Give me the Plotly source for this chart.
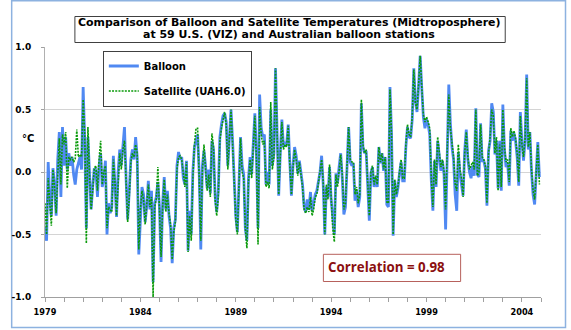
import plotly.graph_objects as go

FONT = "DejaVu Sans"
NOTE_FONT = "Open Sans"

# Monthly midtroposphere anomalies (deg C), Jan 1979 - Dec 2004, one row per year
balloon = [
    -0.44, -0.55, 0.08, -0.22, -0.35, 0.03, -0.10, -0.35, 0.10, 0.32, -0.20, 0.36,
    0.05, 0.28, 0.02, 0.15, 0.05, 0.12, -0.02, -0.10, 0.02, 0.08, 0.12, 0.02,
    0.68, 0.25, -0.45, 0.28, -0.05, -0.30, -0.12, 0.03, 0.01, -0.20, 0.05, 0.15,
    -0.12, -0.05, 0.09, -0.50, -0.25, -0.33, -0.28, 0.13, -0.10, -0.36, 0.00, 0.18,
    0.05, 0.20, 0.36, -0.05, -0.38, -0.15, 0.10, 0.18, 0.10, 0.28, 0.12, -0.66,
    -0.35, -0.12, -0.18, -0.40, -0.28, -0.07, -0.30, -0.15, -0.88, -0.25, -0.20, -0.08,
    -0.28, -0.72, -0.25, -0.04, -0.30, -0.15, -0.35, -0.45, -0.73, -0.45, -0.38, 0.05,
    0.16, 0.10, 0.12, -0.05, -0.10, 0.09, -0.63, -0.31, -0.50, 0.00, 0.20, 0.25,
    0.30, -0.01, -0.62, 0.05, 0.17, 0.05, -0.13, 0.02, -0.17, 0.25, 0.18, -0.19,
    -0.32, -0.15, 0.28, 0.38, 0.45, 0.47, 0.40, 0.05, 0.30, 0.50, 0.25, -0.12,
    -0.35, -0.48, 0.01, 0.28, 0.05, -0.02, -0.45, -0.55, -0.05, 0.12, -0.02, 0.20,
    0.47, 0.15, -0.45, 0.62, 0.35, 0.28, 0.30, -0.10, 0.00, -0.10, 0.50, 0.05,
    0.15, 0.83, 0.25, -0.19, 0.15, 0.42, 0.20, 0.23, 0.22, 0.38, 0.08, -0.19,
    0.05, 0.20, 0.13, -0.01, 0.09, 0.00, -0.10, -0.28, -0.32, -0.22, -0.30, -0.16,
    -0.31, -0.25, -0.18, -0.15, -0.07, 0.00, 0.13, -0.10, -0.50, -0.12, -0.20, 0.04,
    -0.22, -0.40, -0.50, -0.01, -0.09, 0.04, 0.15, -0.05, -0.34, -0.28, 0.00, 0.36,
    0.08, 0.05, 0.07, -0.23, -0.15, -0.28, -0.20, 0.55, 0.20, 0.15, 0.17, -0.12,
    -0.39, -0.01, 0.04, -0.12, -0.04, -0.12, 0.20, 0.07, 0.15, 0.01, 0.12, -0.26,
    -0.28, 0.68, 0.30, -0.51, -0.07, -0.20, -0.13, -0.01, 0.08, -0.07, -0.07, 0.20,
    0.36, 0.28, 0.27, 0.42, 0.83, 0.57, 0.48, 0.69, 0.93, 0.67, 0.44, 0.35,
    0.42, 0.38, 0.30, -0.07, -0.31, 0.09, -0.12, 0.25, 0.12, 0.01, 0.09, -0.02,
    -0.46, 0.25, 0.70, 0.39, 0.20, 0.10, -0.18, -0.31, 0.16, -0.01, -0.10, -0.19,
    0.17, 0.34, 0.10, 0.00, -0.05, 0.05, -0.03, 0.51, -0.02, -0.04, 0.39, 0.09,
    0.09, 0.03, -0.27, 0.17, 0.25, 0.55, 0.48, 0.14, 0.25, -0.13, 0.25, -0.15,
    0.54, 0.18, 0.04, 0.07, -0.11, 0.33, 0.25, 0.31, 0.25, 0.12, -0.11, 0.48,
    0.25, 0.09, 0.25, 0.78, 0.18, 0.32, 0.01, -0.18, -0.26, 0.00, 0.24, -0.04,
]

satellite = [
    -0.25, -0.50, -0.05, -0.28, -0.43, 0.02, -0.12, -0.33, 0.05, 0.27, -0.10, 0.30,
    0.22, 0.32, -0.13, 0.12, 0.10, 0.12, 0.08, 0.10, 0.34, 0.12, 0.14, 0.12,
    0.58, 0.30, -0.57, 0.36, -0.02, -0.30, -0.15, 0.03, 0.05, -0.15, 0.10, 0.25,
    -0.10, 0.00, 0.05, -0.45, -0.28, -0.30, -0.32, 0.10, -0.08, -0.35, -0.05, 0.15,
    0.02, 0.18, 0.25, -0.12, -0.40, -0.20, 0.08, 0.15, 0.12, 0.22, 0.15, -0.62,
    -0.30, -0.15, -0.22, -0.42, -0.25, -0.10, -0.28, -0.20, -1.00, -0.28, -0.22, 0.04,
    -0.30, -0.68, -0.28, -0.06, -0.32, -0.18, -0.33, -0.42, -0.70, -0.48, -0.40, 0.02,
    0.12, 0.13, 0.10, -0.02, -0.12, 0.08, -0.64, -0.35, -0.55, -0.05, 0.22, 0.35,
    0.35, -0.05, -0.55, 0.00, 0.22, 0.02, -0.15, -0.02, -0.20, 0.31, 0.20, -0.22,
    -0.35, -0.20, 0.25, 0.35, 0.42, 0.48, 0.38, 0.02, 0.28, 0.50, 0.22, -0.15,
    -0.38, -0.50, -0.02, 0.27, 0.00, -0.05, -0.45, -0.61, -0.08, 0.10, -0.05, 0.18,
    0.45, 0.10, -0.58, 0.52, 0.30, 0.22, 0.25, -0.12, -0.08, -0.13, 0.56, 0.02,
    0.12, 0.83, 0.25, -0.18, 0.12, 0.40, 0.18, 0.22, 0.20, 0.37, 0.05, -0.18,
    0.03, 0.18, 0.10, -0.03, 0.08, -0.03, -0.12, -0.30, -0.33, -0.28, -0.32, -0.20,
    -0.35, -0.30, -0.20, -0.18, -0.08, -0.02, 0.10, -0.08, -0.50, -0.10, -0.22, 0.06,
    -0.25, -0.45, -0.56, -0.02, -0.12, 0.05, 0.14, -0.02, -0.30, -0.25, 0.02, 0.36,
    0.10, 0.08, 0.08, -0.18, -0.12, -0.25, -0.18, 0.58, 0.22, 0.15, 0.18, -0.08,
    -0.35, 0.00, 0.05, -0.10, -0.03, -0.10, 0.20, 0.08, 0.15, 0.02, 0.12, -0.24,
    -0.25, 0.66, 0.30, -0.50, -0.06, -0.18, -0.12, 0.00, 0.10, -0.05, -0.05, 0.22,
    0.38, 0.30, 0.28, 0.44, 0.82, 0.55, 0.50, 0.70, 0.93, 0.68, 0.46, 0.40,
    0.44, 0.40, 0.35, -0.05, -0.28, 0.10, -0.10, 0.28, 0.15, 0.04, 0.10, 0.00,
    -0.30, 0.20, 0.62, 0.35, 0.22, 0.12, -0.10, -0.15, 0.22, 0.02, -0.05, -0.20,
    0.15, 0.32, 0.12, 0.02, 0.05, 0.08, 0.02, 0.50, -0.03, 0.00, 0.38, 0.12,
    0.10, 0.05, -0.25, 0.15, 0.28, 0.50, 0.45, 0.15, 0.28, -0.15, 0.22, -0.12,
    0.50, 0.20, 0.08, 0.10, -0.08, 0.35, 0.28, 0.33, 0.27, 0.15, -0.08, 0.45,
    0.22, 0.12, 0.27, 0.75, 0.20, 0.32, 0.03, -0.15, -0.22, 0.02, 0.22, -0.10,
]

start_year = 1979
end_year = 2005
label_years = [1979, 1984, 1989, 1994, 1999, 2004]
y_ticks = [-1.0, -0.5, 0.0, 0.5, 1.0]
y_tick_text = ["-1.0", "-0.5", "0.0", "0.5", "1.0"]
correlation = 0.98

months = [start_year + i / 12 for i in range(len(balloon))]
year_ticks = list(range(start_year, end_year + 1))
year_text = [str(y) if y in label_years else "" for y in year_ticks]

W, H = 571, 330
ML, MR, MT, MB = 35, 30, 47, 33
PW, PH = W - ML - MR, H - MT - MB


def px(x):
    return (x - ML) / PW


def py(y):
    return 1 - (y - MT) / PH


fig = go.Figure()
fig.add_trace(go.Scatter(
    x=months, y=balloon, name="Balloon", mode="lines",
    line=dict(color="#5089F2", width=2.8), legendgroup="b",
))
fig.add_trace(go.Scatter(
    x=months, y=satellite, name="Satellite (UAH6.0)", mode="lines",
    line=dict(color="#0A9A0A", width=1.6, dash="2px,1.2px"), legendgroup="s",
))

fig.update_layout(
    width=W, height=H,
    margin=dict(l=ML, r=MR, t=MT, b=MB),
    paper_bgcolor="white", plot_bgcolor="white",
    font=dict(family=FONT, color="black"),
    showlegend=True,
    legend=dict(
        x=px(94), y=py(50.5), xanchor="left", yanchor="top",
        bgcolor="white", bordercolor="#404040", borderwidth=1,
        font=dict(family=FONT, size=10, weight="bold", color="black"),
        tracegroupgap=6,
    ),
    xaxis=dict(
        range=[start_year, end_year],
        tickvals=year_ticks, ticktext=year_text,
        ticks="outside", ticklen=4, tickcolor="#A0A0A0",
        showline=True, linecolor="#A0A0A0", linewidth=1,
        showgrid=False, zeroline=False,
        ticklabelstandoff=3,
        tickfont=dict(family=FONT, size=8.2, weight="bold", color="black"),
    ),
    yaxis=dict(
        range=[-1.0, 1.0],
        tickvals=y_ticks, ticktext=y_tick_text,
        ticks="outside", ticklen=3, tickcolor="#A0A0A0",
        showline=True, linecolor="#B0B0B0", linewidth=1,
        showgrid=True, gridcolor="#D4D4D4", gridwidth=1,
        zeroline=False,
        ticklabelstandoff=8,
        tickfont=dict(family=FONT, size=9, weight="bold", color="black"),
    ),
)

# chart-area frame
fig.add_shape(type="rect", xref="paper", yref="paper",
              x0=px(1), x1=px(566), y0=py(327.5), y1=py(0.8),
              line=dict(color="#8DB2E0", width=1.5), fillcolor="rgba(0,0,0,0)",
              layer="below")

# title box with two tightly spaced lines
fig.add_shape(type="rect", xref="paper", yref="paper",
              x0=px(65.5), x1=px(504.5), y0=py(42.5), y1=py(16.5),
              line=dict(color="#404040", width=1), fillcolor="white")
title_lines = [
    "Comparison of Balloon and Satellite Temperatures (Midtroposphere)",
    "at 59 U.S. (VIZ) and Australian balloon stations",
]
for text, yc in zip(title_lines, [23.0, 35.0]):
    fig.add_annotation(text=text, xref="paper", yref="paper",
                       x=px(284), y=py(yc), xanchor="center", yanchor="middle",
                       showarrow=False,
                       font=dict(family=FONT, size=10.95, weight="bold", color="black"))

# unit label beside the value axis
fig.add_annotation(text="°C", xref="paper", yref="paper",
                   x=px(17.5), y=py(138), xanchor="center", yanchor="middle",
                   showarrow=False,
                   font=dict(family=FONT, size=10, weight="bold", color="black"))

# correlation note
fig.add_shape(type="rect", xref="paper", yref="paper",
              x0=px(319), x1=px(459), y0=py(281.5), y1=py(254.3),
              line=dict(color="#B7615C", width=1), fillcolor="white")
fig.add_annotation(text=f"Correlation = {correlation:.2f}", xref="paper", yref="paper",
                   x=px(322), y=py(267), xanchor="left", yanchor="middle",
                   showarrow=False,
                   font=dict(family=NOTE_FONT, size=13.3, weight="bold", color="#8B1010"))

fig.write_html("out.html")
